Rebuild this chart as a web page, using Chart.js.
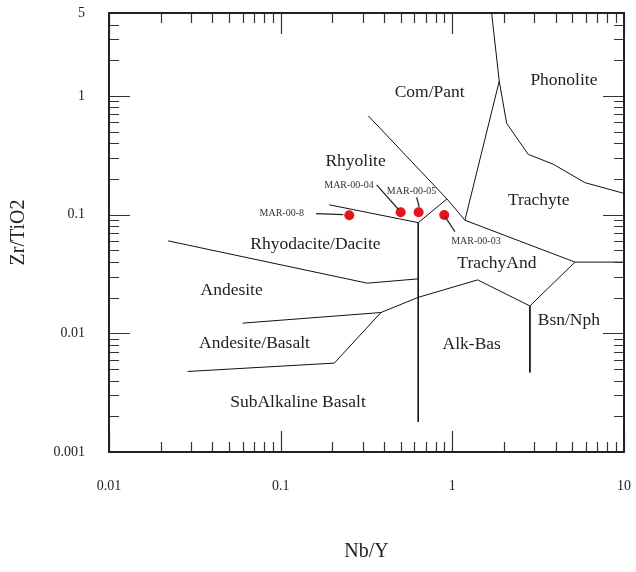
<!DOCTYPE html>
<html>
<head>
<meta charset="utf-8">
<script src="https://cdn.jsdelivr.net/npm/chart.js@4"></script>
<style>
  html,body{margin:0;padding:0;background:#fff}
  #wrap{width:636px;height:572px}
</style>
</head>
<body>
<div id="wrap"><canvas id="c" width="636" height="572"></canvas></div>
<script>
// ── Winchester & Floyd Nb/Y vs Zr/TiO2 ──────────────────────────────────────

// axis ticks
const xMajor = [0.01, 0.1, 1, 10];
const xMinor = [0.02,0.03,0.04,0.05,0.06,0.07,0.08,0.09, 0.2,0.3,0.4,0.5,0.6,0.7,0.8,0.9, 2,3,4,5,6,7,8,9];
const yMajor = [0.001, 0.01, 0.1, 1];
const yMinor = [0.002,0.003,0.004,0.005,0.006,0.007,0.008,0.009, 0.02,0.03,0.04,0.05,0.06,0.07,0.08,0.09,
                0.2,0.3,0.4,0.5,0.6,0.7,0.8,0.9, 2,3,4];
const xLabels = [0.01, 0.1, 1, 10];
const yLabels = [0.001, 0.01, 0.1, 1, 5];

// field boundaries  [Nb/Y, Zr/TiO2]
const rhyoliteRhyodacite = [[0.192,0.121],[0.633,0.0856],[0.930,0.1356]];
const rhyoliteComPant    = [[0.324,0.68],[0.930,0.1356],[1.184,0.0897]];
const comPantTrachyte    = [[1.184,0.0897],[1.876,1.335],[1.694,5]];
const phonoliteTrachyte  = [[1.876,1.335],[2.072,0.588],[2.767,0.322],[3.87,0.266],[5.92,0.186],[10,0.151]];
const trachyteTrachyAnd  = [[1.184,0.0897],[5.18,0.0398],[10,0.0398]];
const trachyAndBsnNph    = [[5.18,0.0398],[2.83,0.0170],[2.83,0.00468]];
const alkBasUpper        = [[2.83,0.0170],[1.404,0.0282],[0.633,0.0201],[0.384,0.01497]];
const subAlkVertical     = [[0.633,0.0856],[0.633,0.00179]];
const dacitAndesite      = [[0.0221,0.0601],[0.3195,0.02646],[0.633,0.02876]];
const andesiteBasalt     = [[0.0601,0.01219],[0.384,0.01497],[0.2052,0.00561],[0.0287,0.00477]];

// samples
const sampleNames = ["MAR-00-8","MAR-00-04","MAR-00-05","MAR-00-03"];
const sampleNbY   = [0.251, 0.50, 0.636, 0.897];
const sampleZrTi  = [0.0988, 0.1047, 0.1047, 0.0994];
// sample label anchors and leader lines
const sampleLabelPos = [[0.1367,0.102,"right"],[0.250,0.178,"center"],[0.579,0.158,"center"],[1.372,0.0601,"center"]];
const leaders = [
  [[0.1606,0.102],[0.2315,0.100]],
  [[0.3623,0.1778],[0.4841,0.111]],
  [[0.6196,0.1401],[0.6417,0.1154]],
  [[0.906,0.0962],[1.035,0.0719]],
];

// field names
const fieldNames = ["Com/Pant","Phonolite","Rhyolite","Trachyte","Rhyodacite/Dacite","TrachyAnd",
                    "Andesite","Bsn/Nph","Andesite/Basalt","Alk-Bas","SubAlkaline Basalt"];
const fieldPos = [[0.738,1.072],[4.467,1.343],[0.273,0.283],[3.185,0.1312],[0.1595,0.0563],[1.818,0.039],
                  [0.0518,0.0229],[4.775,0.0128],[0.0704,0.00827],[1.297,0.00811],[0.1261,0.00264]];

const INK = "#222";
const SERIF = "'Liberation Serif', 'Times New Roman', serif";

const toXY = arr => arr.map(p => ({ x:p[0], y:p[1] }));
const boundary = pts => ({ data:toXY(pts), showLine:true, borderColor:"#111", borderWidth:1,
                           pointRadius:0, fill:false, tension:0 });

const datasets = [
  rhyoliteRhyodacite, rhyoliteComPant, comPantTrachyte, phonoliteTrachyte, trachyteTrachyAnd,
  trachyAndBsnNph, alkBasUpper, subAlkVertical, dacitAndesite, andesiteBasalt
].map(boundary);
leaders.forEach(l => datasets.push({ data:toXY(l), showLine:true, borderColor:"#222", borderWidth:1.2, pointRadius:0 }));
datasets.push({
  data: sampleNbY.map((x,i)=>({ x, y:sampleZrTi[i] })),
  showLine:false, pointRadius:5, pointBackgroundColor:"#e3141c", pointBorderWidth:0, pointBorderColor:"#e3141c"
});

// frame, inward ticks, field names and sample labels
const decor = {
  id:"decor",
  afterDraw(chart){
    const { ctx, chartArea:a, scales:{ x, y } } = chart;
    ctx.save();
    ctx.strokeStyle = "#333"; ctx.lineWidth = 1.2;
    const tick = (vals, len, horiz) => vals.forEach(v => {
      ctx.beginPath();
      if(horiz){
        const px = Math.round(x.getPixelForValue(v)) + 0.5;
        ctx.moveTo(px, a.bottom); ctx.lineTo(px, a.bottom - len);
        ctx.moveTo(px, a.top);    ctx.lineTo(px, a.top + len);
      } else {
        const py = Math.round(y.getPixelForValue(v)) + 0.5;
        ctx.moveTo(a.left, py);  ctx.lineTo(a.left + len, py);
        ctx.moveTo(a.right, py); ctx.lineTo(a.right - len, py);
      }
      ctx.stroke();
    });
    tick(xMinor, 10, true); tick(xMajor, 21, true);
    tick(yMinor, 10, false); tick(yMajor, 21, false);

    ctx.strokeStyle = INK; ctx.lineWidth = 2;
    ctx.strokeRect(a.left, a.top, a.right - a.left, a.bottom - a.top);

    ctx.fillStyle = INK; ctx.textBaseline = "middle"; ctx.textAlign = "center";
    ctx.font = `17.5px ${SERIF}`;
    fieldNames.forEach((n,i) => ctx.fillText(n, x.getPixelForValue(fieldPos[i][0]), y.getPixelForValue(fieldPos[i][1])));

    ctx.font = `10px ${SERIF}`; ctx.fillStyle = "#333";
    sampleNames.forEach((n,i) => {
      const [lx, ly, al] = sampleLabelPos[i];
      ctx.textAlign = al;
      ctx.fillText(n, x.getPixelForValue(lx), y.getPixelForValue(ly));
    });
    ctx.restore();
  }
};

const noPad = s => { s.paddingLeft = 0; s.paddingRight = 0; s.paddingTop = 0; s.paddingBottom = 0; };

const logAxis = (min, max, ticks, labels, title, extra) => Object.assign({
  type:"logarithmic", min, max,
  grid:{ display:false, drawTicks:false },
  border:{ display:false },
  afterBuildTicks: s => { s.ticks = ticks.map(v => ({ value:v })); },
  ticks:{ autoSkip:false, maxRotation:0, minRotation:0, color:INK,
          font:{ family:SERIF, size:14 },
          callback: v => labels.includes(v) ? String(v) : "" },
  title:{ display:true, text:title, color:INK, font:{ family:SERIF, size:20 } },
}, extra);

new Chart(document.getElementById("c"), {
  type:"scatter",
  data:{ datasets },
  options:{
    responsive:false, animation:false, events:[],
    layout:{ padding:{ top:13, right:12, left:0, bottom:0 } },
    plugins:{ legend:{ display:false }, tooltip:{ enabled:false } },
    scales:{
      x: logAxis(0.01, 10, [...xMajor, ...xMinor].sort((a,b)=>a-b), xLabels, "Nb/Y", {
        afterFit: s => { s.height = 120; noPad(s); }
      }),
      y: logAxis(0.001, 5, [...yMajor, ...yMinor, 5].sort((a,b)=>a-b), yLabels, "Zr/TiO2", {
        afterFit: s => { s.width = 109; noPad(s); }
      }),
    },
  },
  plugins:[decor],
});
// axis spacing tweaks
const ch = Chart.getChart("c");
ch.options.scales.x.ticks.padding = 26;
ch.options.scales.x.title.padding = { top:0, bottom:8 };
ch.options.scales.y.ticks.padding = 24;
ch.options.scales.y.title.padding = { top:7, bottom:0 };
ch.update();
</script>
</body>
</html>
